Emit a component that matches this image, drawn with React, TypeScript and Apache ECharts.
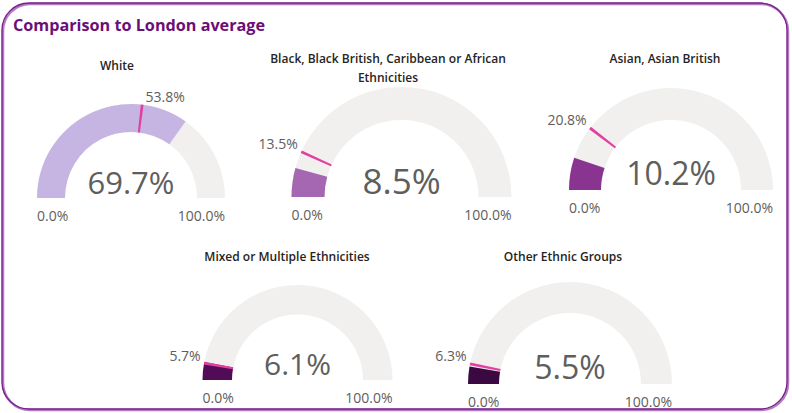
import React, { useEffect, useRef } from "react";
import * as echarts from "echarts";

// ---- data ----
const categories = [
  "White",
  "Black, Black British, Caribbean or African\nEthnicities",
  "Asian, Asian British",
  "Mixed or Multiple Ethnicities",
  "Other Ethnic Groups",
];
const boroughValues = [69.7, 8.5, 10.2, 6.1, 5.5];
const londonAverage = [53.8, 13.5, 20.8, 5.7, 6.3];
const axisMin = 0;
const axisMax = 100;
const chartTitle = "Comparison to London average";

// ---- layout / style (not data) ----
const layout = [
  { cx: 131, cy: 198, r: 94, w: 28, fs: 31, dy: -16, tx: -14, ty: -133, color: "#C6B5E3" },
  { cx: 401.5, cy: 197, r: 110, w: 33, fs: 35, dy: -17, tx: -13.5, ty: -129.5, color: "#A567B1" },
  { cx: 671, cy: 190, r: 102, w: 32, fs: 32, dy: -18, tx: -6, ty: -132, color: "#8A3491" },
  { cx: 297.5, cy: 380, r: 95, w: 29.5, fs: 30, dy: -17, tx: -10.5, ty: -124, color: "#520B56" },
  { cx: 570, cy: 384, r: 102, w: 31, fs: 32, dy: -18, tx: -7, ty: -128, color: "#3B0842" },
];
const FONT = "'Open Sans', 'Noto Sans', sans-serif";
const GREY = "#605E5C";
const TRACK = "#F1F0EF";
const MARKER = "#E23FA0";
const fmt = (v: number) => v.toFixed(1) + "%";

function buildOption() {
  const series: any[] = [];
  categories.forEach((name, i) => {
    const L = layout[i];
    const v = boroughValues[i];
    series.push({
      type: "gauge",
      z: 2,
      center: [L.cx, L.cy],
      radius: L.r,
      startAngle: 180,
      endAngle: 0,
      min: axisMin,
      max: axisMax,
      splitNumber: 1,
      pointer: { show: false },
      anchor: { show: false },
      axisTick: { show: false },
      splitLine: { show: false, length: 0, distance: 0 },
      progress: { show: true, width: L.w, roundCap: false, itemStyle: { color: L.color } },
      axisLine: { roundCap: false, lineStyle: { width: L.w, color: [[1, TRACK]] } },
      axisLabel: {
        show: true,
        distance: 0,
        color: GREY,
        fontSize: 14,
        fontFamily: FONT,
        lineHeight: 34,
        formatter: (val: number) => "\n" + fmt(val),
      },
      title: {
        show: true,
        offsetCenter: [L.tx, L.ty],
        fontSize: 12,
        fontWeight: 600,
        fontFamily: FONT,
        color: "#252423",
        lineHeight: 19,
      },
      detail: {
        show: true,
        offsetCenter: [0, L.dy],
        fontSize: L.fs,
        fontWeight: "normal",
        fontFamily: FONT,
        color: GREY,
        formatter: (val: number) => fmt(val),
      },
      data: [{ value: v, name }],
    });

    // London average marker
    const a = londonAverage[i];
    const frac = (a - axisMin) / (axisMax - axisMin);
    const half = 1.2 / (Math.PI * (L.r - L.w / 2));
    const theta = Math.PI * (1 - frac);
    const tipX = L.r * Math.cos(theta);
    const tipY = -L.r * Math.sin(theta);
    const label = fmt(a);
    const textW = label.length * 8;
    const side = frac > 0.4 ? 1 : -1;
    series.push({
      type: "gauge",
      z: 5,
      center: [L.cx, L.cy],
      radius: L.r,
      startAngle: 180,
      endAngle: 0,
      min: axisMin,
      max: axisMax,
      pointer: { show: false },
      anchor: { show: false },
      axisTick: { show: false },
      splitLine: { show: false },
      axisLabel: { show: false },
      progress: { show: false },
      axisLine: {
        roundCap: false,
        lineStyle: {
          width: L.w,
          color: [
            [frac - half, "rgba(0,0,0,0)"],
            [frac + half, MARKER],
            [1, "rgba(0,0,0,0)"],
          ],
        },
      },
      title: { show: false },
      detail: {
        show: true,
        offsetCenter: [tipX + side * (3 + textW / 2), tipY - 8],
        fontSize: 14,
        fontWeight: "normal",
        fontFamily: FONT,
        color: GREY,
        formatter: (val: number) => fmt(val),
      },
      data: [{ value: a }],
    });
  });

  return {
    animation: false,
    backgroundColor: "#ffffff",
    title: {
      text: chartTitle,
      left: 8,
      top: 12,
      textStyle: { fontFamily: FONT, fontSize: 16.2, fontWeight: "bold", color: "#6B0F78" },
    },
    graphic: [
      {
        type: "rect",
        shape: { x: 3, y: 4, width: 785, height: 406, r: 27 },
        style: { fill: "none", stroke: "#B07CC2", lineWidth: 2.5 },
        silent: true,
      },
      {
        type: "rect",
        shape: { x: 2, y: 3, width: 785, height: 406, r: 27 },
        style: { fill: "none", stroke: "#7B1E8C", lineWidth: 1.3 },
        silent: true,
      },
    ],
    series,
  };
}

export default function App() {
  const ref = useRef<HTMLDivElement>(null);
  useEffect(() => {
    document.body.style.margin = "0";
    const chart = echarts.init(ref.current!, undefined, { renderer: "svg" });
    chart.setOption(buildOption() as any);
    return () => chart.dispose();
  }, []);
  return <div ref={ref} style={{ width: 792, height: 413 }} />;
}
